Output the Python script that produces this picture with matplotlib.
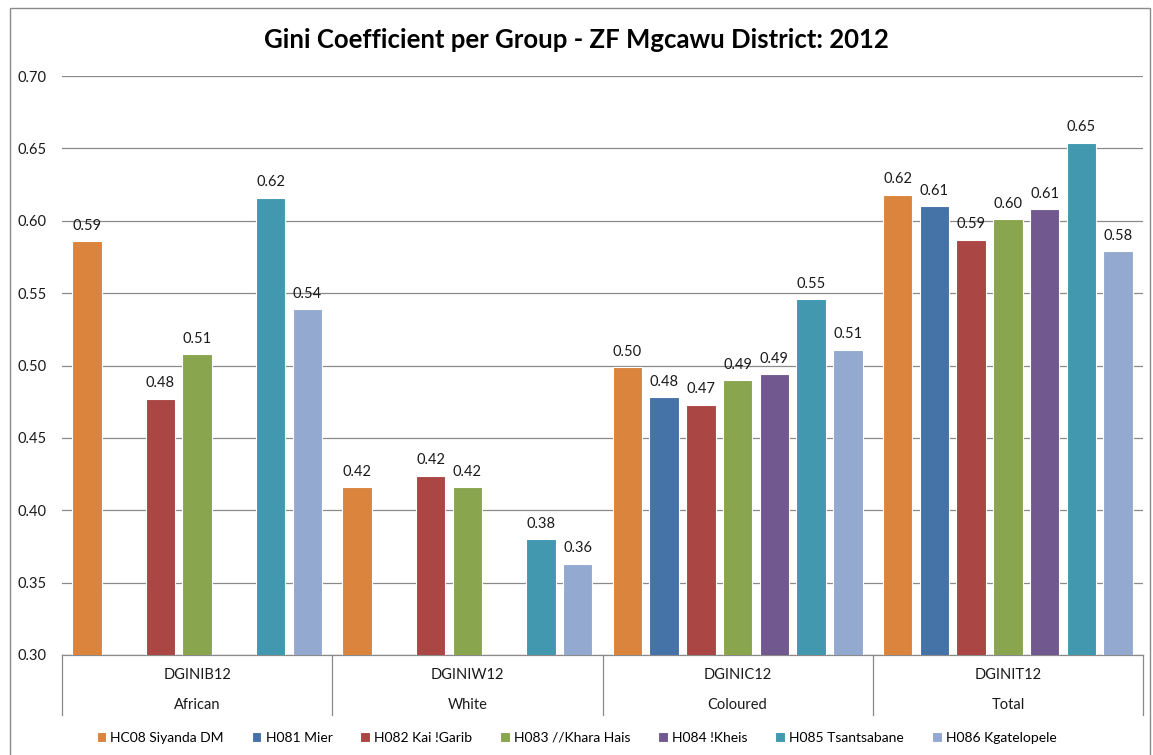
import numpy as np
import matplotlib.pyplot as plt
from matplotlib.patches import Rectangle

plt.rcParams['font.family'] = ['Lato', 'DejaVu Sans']

groups = ["DGINIB12", "DGINIW12", "DGINIC12", "DGINIT12"]
group_names = ["African", "White", "Coloured", "Total"]
series = ["HC08 Siyanda DM", "H081 Mier", "H082 Kai !Garib", "H083 //Khara Hais",
          "H084 !Kheis", "H085 Tsantsabane", "H086 Kgatelopele"]
colors = ["#DB843D", "#4572A7", "#AA4643", "#89A54E", "#71588F", "#4198AF", "#93A9CF"]

# rows = series, columns = groups (nan = no bar)
siyanda = [0.586, 0.416, 0.499, 0.618]
mier = [np.nan, np.nan, 0.478, 0.610]
kai_garib = [0.477, 0.424, 0.473, 0.587]
khara_hais = [0.508, 0.416, 0.490, 0.601]
kheis = [np.nan, np.nan, 0.494, 0.608]
tsantsabane = [0.616, 0.380, 0.546, 0.654]
kgatelopele = [0.539, 0.363, 0.511, 0.579]
values = [siyanda, mier, kai_garib, khara_hais, kheis, tsantsabane, kgatelopele]

W, H = 1153, 755
fig = plt.figure(figsize=(W / 100, H / 100), dpi=100)
ax = fig.add_axes([62 / W, (H - 655) / H, (1143 - 62) / W, (655 - 76) / H])

pitch = 0.136
width = 0.109
x0 = np.arange(len(groups))
for j, (name, vals, c) in enumerate(zip(series, values, colors)):
    vals = np.array(vals)
    xs = x0 + 0.5 + (j - 3) * pitch
    ok = ~np.isnan(vals)
    bars = ax.bar(xs[ok], vals[ok], width, color=c, edgecolor="white", linewidth=0.8,
                  label=name, zorder=3)
    for b, v in zip(bars, vals[ok]):
        ax.annotate(f"{v:.2f}", (b.get_x() + b.get_width() / 2, v), xytext=(0, 6),
                    textcoords="offset points", ha="center", va="bottom",
                    fontsize=10.5, color="#1a1a1a")

ax.set_xlim(0, len(groups))
ax.set_ylim(0.30, 0.70)
ax.set_yticks(np.arange(0.30, 0.701, 0.05))
ax.yaxis.set_major_formatter(plt.FuncFormatter(lambda v, p: f"{v:.2f}"))
ax.tick_params(axis="y", length=0, pad=11, labelsize=10.5, labelcolor="#1a1a1a")
ax.set_xticks([])
ax.grid(axis="y", color="#8a8a8a", linewidth=0.9, zorder=0)
for s in ["top", "right", "left"]:
    ax.spines[s].set_visible(False)
ax.spines["bottom"].set_color("#8a8a8a")
ax.spines["bottom"].set_linewidth(0.9)

# two-level category axis
tr = ax.get_xaxis_transform()
for k in range(len(groups) + 1):
    ax.plot([k, k], [0, -60 / 579], transform=tr, color="#8a8a8a", lw=0.9, clip_on=False)
for k, (g, n) in enumerate(zip(groups, group_names)):
    ax.text(k + 0.5, -20 / 579, g, transform=tr, ha="center", va="center", fontsize=10.5,
            color="#1a1a1a")
    ax.text(k + 0.5, -50 / 579, n, transform=tr, ha="center", va="center", fontsize=10.5,
            color="#1a1a1a")

fig.text(0.5, 1 - 40 / H, "Gini Coefficient per Group - ZF Mgcawu District: 2012",
         ha="center", va="center", fontsize=18.5, fontweight="bold", color="#000000")

fig.legend(loc="center", bbox_to_anchor=(0.5, 1 - 738 / H), ncol=7, frameon=False,
           fontsize=10, handlelength=0.7, handleheight=0.7, handletextpad=0.3,
           columnspacing=2.0)

fig.add_artist(Rectangle((10 / W, -0.05), (1150 - 10) / W, 1.05 - 8 / H,
                         transform=fig.transFigure, fill=False, edgecolor="#8a8a8a", lw=1))

fig.savefig("out.png", dpi=100)
